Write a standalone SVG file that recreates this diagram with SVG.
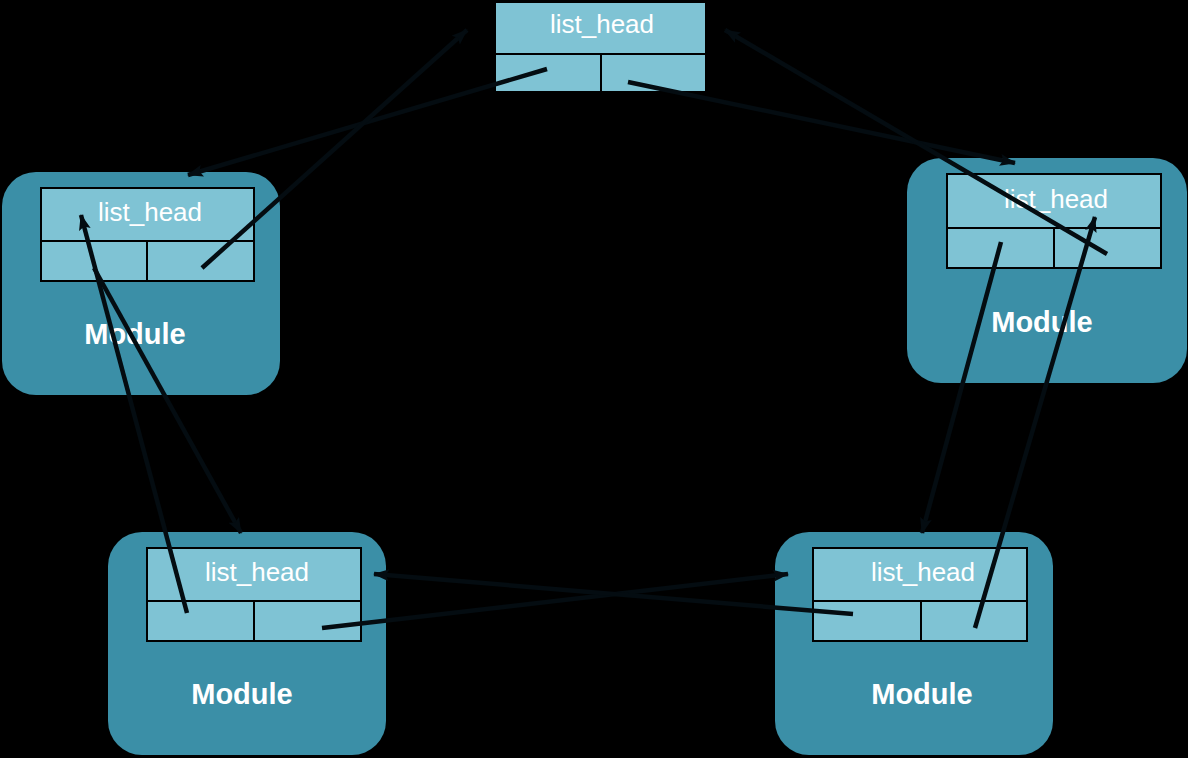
<svg xmlns="http://www.w3.org/2000/svg" width="1188" height="758" viewBox="0 0 1188 758">
<style>
.mod{fill:#3b8fa7;}
.cell{fill:#7fc3d4;stroke:#000;stroke-width:2;}
.lh{font-family:"Liberation Sans",Arial,sans-serif;font-size:26px;fill:#fff;text-anchor:middle;}
.mt{font-family:"Liberation Sans",Arial,sans-serif;font-size:29px;font-weight:bold;fill:#fff;text-anchor:middle;}
.c{stroke:#040c11;stroke-width:4.5;fill:none;marker-end:url(#ah);}
</style>
<defs>
<marker id="ah" markerUnits="userSpaceOnUse" markerWidth="18" markerHeight="14" refX="15" refY="6" orient="auto">
<path d="M0,0 L16,6 L0,12 L3,6 z" fill="#040c11"/>
</marker>
</defs>
<rect width="1188" height="758" fill="#000"/>
<g id="top-head">
<rect x="495" y="2" width="211" height="90" class="cell"/>
<line x1="495" y1="54" x2="706" y2="54" stroke="#000" stroke-width="2"/>
<line x1="601" y1="54" x2="601" y2="92" stroke="#000" stroke-width="2"/>
<text x="602" y="33" class="lh">list_head</text>
</g>
<g id="module-left">
<rect x="2" y="172" width="278" height="223" rx="34" class="mod"/>
<rect x="41" y="188" width="213" height="93" class="cell"/>
<line x1="41" y1="241" x2="254" y2="241" stroke="#000" stroke-width="2"/>
<line x1="147" y1="241" x2="147" y2="281" stroke="#000" stroke-width="2"/>
<text x="150" y="221" class="lh">list_head</text>
<text x="135" y="344" class="mt">Module</text>
</g>
<g id="module-right">
<rect x="907" y="158" width="280" height="225" rx="34" class="mod"/>
<rect x="947" y="174" width="214" height="94" class="cell"/>
<line x1="947" y1="228" x2="1161" y2="228" stroke="#000" stroke-width="2"/>
<line x1="1054" y1="228" x2="1054" y2="268" stroke="#000" stroke-width="2"/>
<text x="1056" y="208" class="lh">list_head</text>
<text x="1042" y="332" class="mt">Module</text>
</g>
<g id="module-bottom-left">
<rect x="108" y="532" width="278" height="223" rx="34" class="mod"/>
<rect x="147" y="548" width="214" height="93" class="cell"/>
<line x1="147" y1="601" x2="361" y2="601" stroke="#000" stroke-width="2"/>
<line x1="254" y1="601" x2="254" y2="641" stroke="#000" stroke-width="2"/>
<text x="257" y="581" class="lh">list_head</text>
<text x="242" y="704" class="mt">Module</text>
</g>
<g id="module-bottom-right">
<rect x="775" y="532" width="278" height="223" rx="34" class="mod"/>
<rect x="813" y="548" width="214" height="93" class="cell"/>
<line x1="813" y1="601" x2="1027" y2="601" stroke="#000" stroke-width="2"/>
<line x1="921" y1="601" x2="921" y2="641" stroke="#000" stroke-width="2"/>
<text x="923" y="581" class="lh">list_head</text>
<text x="922" y="704" class="mt">Module</text>
</g>
<g id="connectors">
<line class="c" x1="547" y1="69" x2="188" y2="175"/>
<line class="c" x1="202" y1="268" x2="467" y2="30"/>
<line class="c" x1="628" y1="82" x2="1015" y2="163"/>
<line class="c" x1="1107" y1="254" x2="725" y2="30"/>
<line class="c" x1="1001" y1="242" x2="922" y2="533"/>
<line class="c" x1="975" y1="628" x2="1095" y2="217"/>
<line class="c" x1="322" y1="628" x2="788" y2="574"/>
<line class="c" x1="853" y1="614" x2="374" y2="574"/>
<line class="c" x1="187" y1="613" x2="81" y2="215"/>
<line class="c" x1="94" y1="268" x2="241" y2="533"/>
</g>
</svg>
